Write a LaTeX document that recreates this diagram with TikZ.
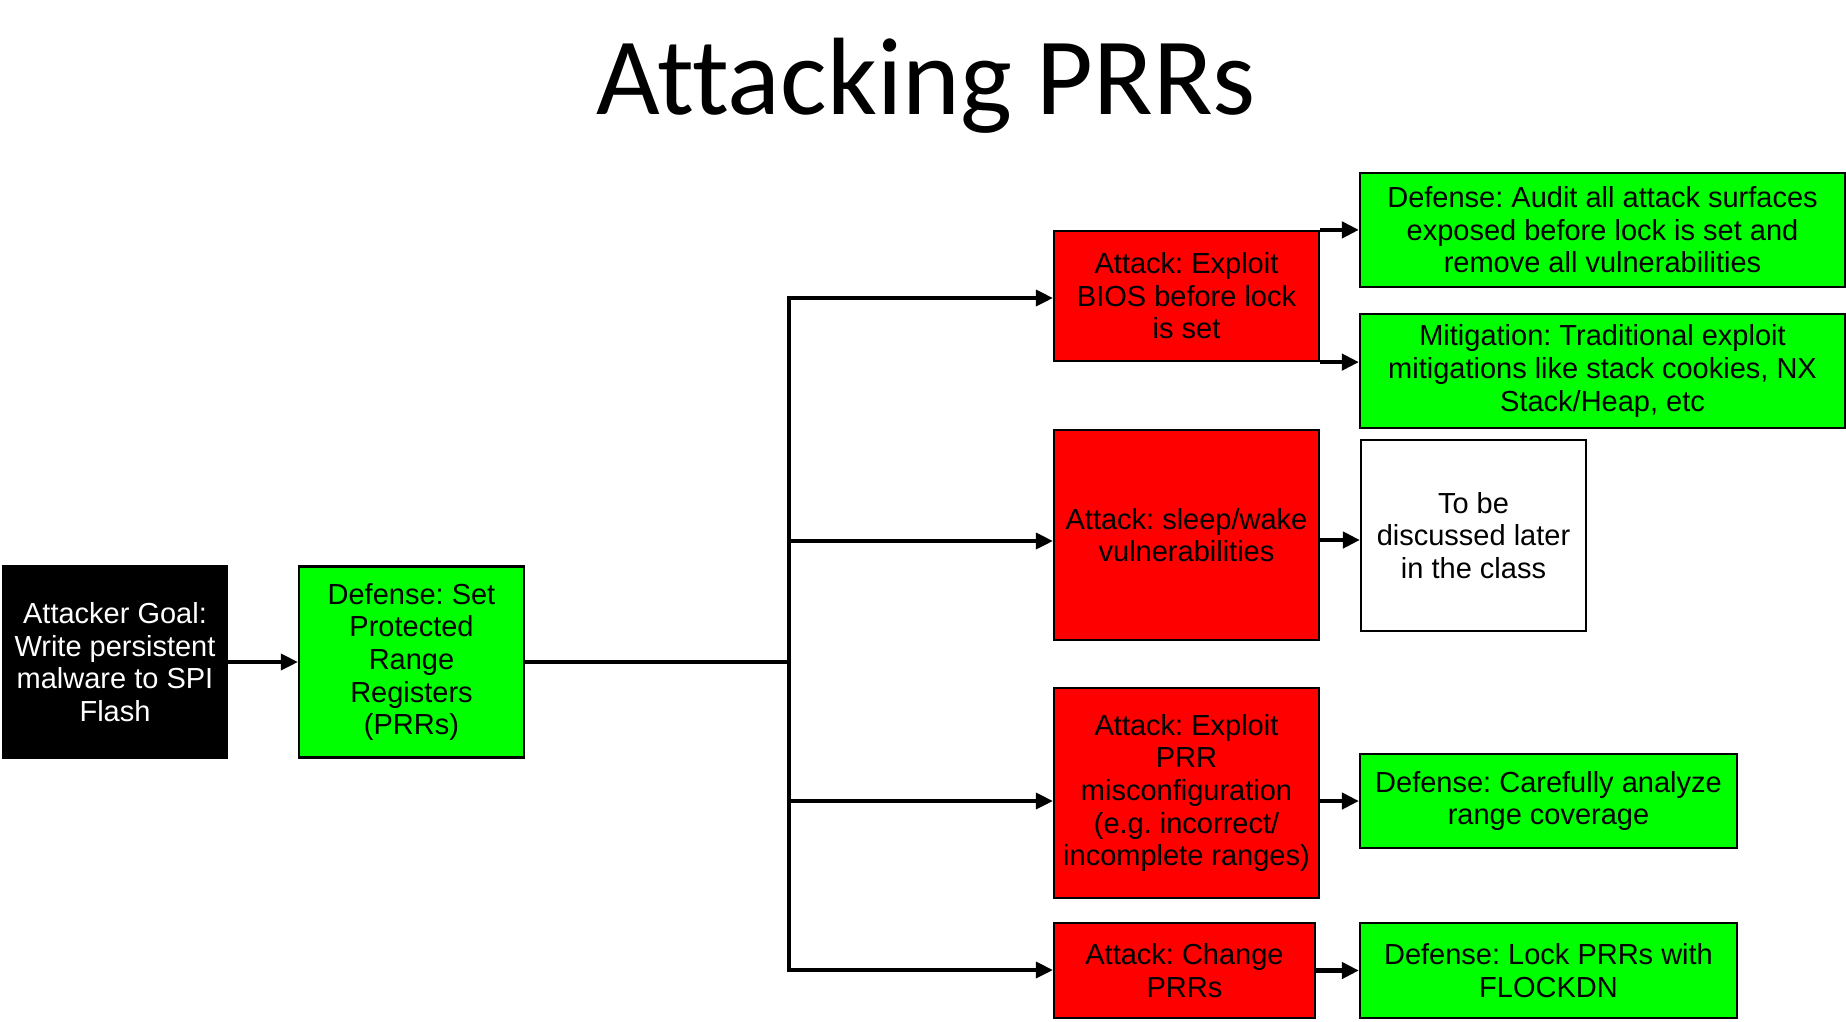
\documentclass[tikz,border=0pt]{standalone}
\usepackage{fontspec}
\setmainfont{Liberation Sans}
\newfontfamily\titlefont[Ligatures=NoCommon]{Carlito}
\usetikzlibrary{arrows.meta}
\frenchspacing

\definecolor{attackred}{HTML}{FE0000}
\definecolor{defgreen}{HTML}{00FF00}

\tikzset{
  box/.style={draw=black, line width=2.2pt, inner sep=0pt, align=center,
    font=\fontsize{29}{32.6}\selectfont},
  goalbox/.style={box, fill=black, text=white},
  defbox/.style={box, fill=defgreen},
  atkbox/.style={box, fill=attackred},
  notebox/.style={box, fill=white},
  conn/.style={line width=3.4pt, -{Triangle[length=17pt,width=16pt]}},
  plainconn/.style={line width=3.4pt},
  outconn/.style={line width=4.5pt, -{Triangle[length=17pt,width=16pt]}},
}

\begin{document}
\begin{tikzpicture}[x=1pt, y=-1pt]
  \fill[white] (0,0) rectangle (1846,1021);
  \useasboundingbox (0,0) rectangle (1846,1021);

  % title
  \node[anchor=base, inner sep=0pt, font=\titlefont\fontsize{110}{120}\selectfont]
    (title) at (926,114) {Attacking PRRs};

  % goal and first defense
  \node[goalbox, minimum width=224pt, minimum height=192pt] (goal) at (115,662)
    {Attacker Goal:\\Write persistent\\malware to SPI\\Flash};
  \node[defbox, minimum width=225pt, minimum height=191pt] (prr) at (411.5,662)
    {Defense: Set\\Protected\\Range\\Registers\\(PRRs)};

  % attacks
  \node[atkbox, minimum width=265pt, minimum height=130pt] (a1) at (1186.5,296)
    {Attack: Exploit\\BIOS before lock\\is set};
  \node[atkbox, minimum width=265pt, minimum height=210pt] (a2) at (1186.5,535)
    {Attack: sleep/wake\\vulnerabilities};
  \node[atkbox, minimum width=265pt, minimum height=210pt] (a3) at (1186.5,793)
    {Attack: Exploit\\PRR\\misconfiguration\\(e.g. incorrect/\\incomplete ranges)};
  \node[atkbox, minimum width=261pt, minimum height=95pt] (a4) at (1184.5,970.5)
    {Attack: Change\\PRRs};

  % responses
  \node[defbox, minimum width=485pt, minimum height=114pt] (d1) at (1602.5,230)
    {Defense: Audit all attack surfaces\\exposed before lock is set and\\remove all vulnerabilities};
  \node[defbox, minimum width=485pt, minimum height=114pt] (m1) at (1602.5,371)
    {Mitigation: Traditional exploit\\mitigations like stack cookies, NX\\Stack/Heap, etc};
  \node[notebox, minimum width=225pt, minimum height=191pt] (tbd) at (1473.5,535.5)
    {To be\\discussed later\\in the class};
  \node[defbox, minimum width=377pt, minimum height=94pt] (d3) at (1548.5,801)
    {Defense: Carefully analyze\\range coverage};
  \node[defbox, minimum width=377pt, minimum height=95pt] (d4) at (1548.5,970.5)
    {Defense: Lock PRRs with\\FLOCKDN};

  % trunk and branch points
  \coordinate (tr) at (789,662);
  \coordinate (trtop) at (789,298);
  \coordinate (trbot) at (789,970);
  \coordinate (a2in) at ([yshift=-6pt]a2.west);
  \coordinate (a3in) at ([yshift=-8pt]a3.west);
  \coordinate (a2out) at ([yshift=-5pt]a2.east);

  \draw[conn] (goal) -- (prr);
  \draw[plainconn] (prr) -- (tr);
  \draw[plainconn, line cap=rect] (trtop) -- (trbot);
  \draw[conn] (trtop) -- (trtop -| a1.west);
  \draw[conn] (tr |- a2in) -- (a2in);
  \draw[conn] (tr |- a3in) -- (a3in);
  \draw[conn] (trbot) -- (trbot -| a4.west);

  % attack to response
  \draw[outconn] (a1.north east) -- (a1.north east -| d1.west);
  \draw[outconn] (a1.south east) -- (a1.south east -| m1.west);
  \draw[outconn] (a2out) -- (a2out -| tbd.west);
  \draw[outconn] (d3.west -| a3.east) -- (d3.west);
  \draw[outconn] (a4) -- (d4);
\end{tikzpicture}
\end{document}
